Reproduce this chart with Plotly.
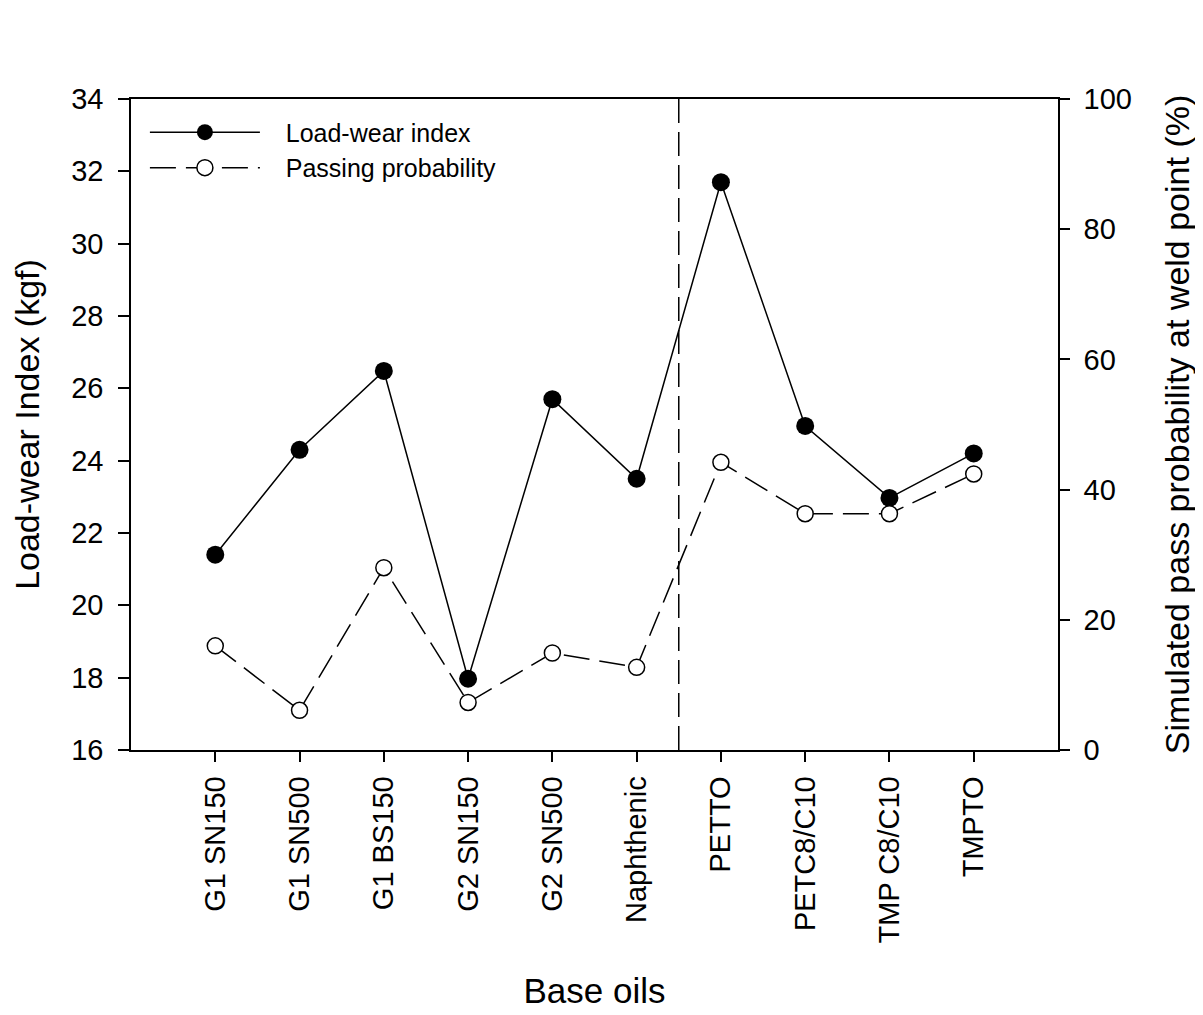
import plotly.graph_objects as go

categories = ["G1 SN150", "G1 SN500", "G1 BS150", "G2 SN150", "G2 SN500",
              "Naphthenic", "PETTO", "PETC8/C10", "TMP C8/C10", "TMPTO"]
load_wear = [21.4, 24.3, 26.48, 17.97, 25.7, 23.5, 31.7, 24.96, 22.97, 24.2]
pass_prob = [16.0, 6.1, 28.0, 7.3, 14.9, 12.7, 44.2, 36.3, 36.3, 42.4]
divider_pos = 6.5

xpos = list(range(1, len(categories) + 1))
FONT = "Liberation Sans, Arial, sans-serif"
NB = "\u00a0\u00a0\u00a0"

fig = go.Figure()
fig.add_trace(go.Scatter(
    x=xpos, y=load_wear, name=NB + "Load-wear index", mode="lines+markers",
    line=dict(color="black", width=1.5),
    marker=dict(symbol="circle", size=18, color="black"),
    yaxis="y"))
fig.add_trace(go.Scatter(
    x=xpos, y=pass_prob, name=NB + "Passing probability", mode="lines+markers",
    line=dict(color="black", width=1.5, dash="26px,10px"),
    marker=dict(symbol="circle", size=16, color="white",
                line=dict(color="black", width=1.5)),
    yaxis="y2"))

fig.add_shape(type="line", xref="x", yref="y domain", x0=divider_pos, x1=divider_pos,
              y0=0, y1=1, line=dict(color="black", width=1.5, dash="24px,9px"))

fig.update_layout(
    width=1203, height=1015,
    margin=dict(l=123, r=153, t=91, b=273),
    paper_bgcolor="white", plot_bgcolor="white",
    font=dict(family=FONT, color="black", size=29),
    showlegend=True,
    legend=dict(x=0.015, y=0.984, xanchor="left", yanchor="top",
                bgcolor="rgba(0,0,0,0)", font=dict(size=25, family=FONT),
                itemwidth=110, tracegroupgap=0),
    xaxis=dict(range=[0, 11], tickvals=xpos, ticktext=categories,
               tickangle=-90, ticks="outside", ticklen=10, tickwidth=1.5,
               tickcolor="black", showline=True, linecolor="black", linewidth=1.5,
               mirror=True, showgrid=False, zeroline=False, ticklabelstandoff=3,
               tickfont=dict(size=29, family=FONT),
               title=dict(text="Base oils", font=dict(size=35, family=FONT), standoff=36)),
    yaxis=dict(range=[16, 34], dtick=2, ticks="outside", ticklen=11, tickwidth=1.5,
               tickcolor="black", showline=True, linecolor="black", linewidth=1.5,
               showgrid=False, zeroline=False, ticklabelstandoff=9,
               tickfont=dict(size=29, family=FONT),
               title=dict(text="Load-wear Index (kgf)", font=dict(size=34, family=FONT),
                          standoff=25)),
    yaxis2=dict(range=[0, 100], dtick=20, overlaying="y", side="right",
                ticks="outside", ticklen=10, tickwidth=1.5, tickcolor="black",
                showline=True, linecolor="black", linewidth=1.5, ticklabelstandoff=8,
                showgrid=False, zeroline=False, tickfont=dict(size=29, family=FONT),
                title=dict(text="Simulated pass probability at weld point (%)",
                           font=dict(size=34, family=FONT), standoff=34)),
)

fig.write_html("out.html")
